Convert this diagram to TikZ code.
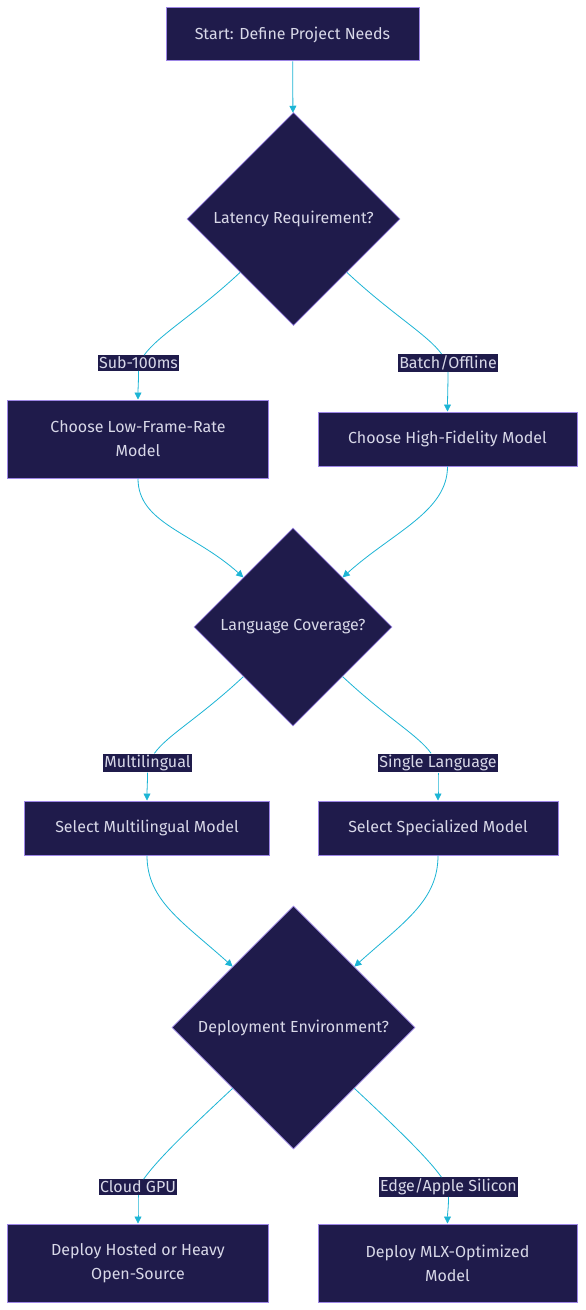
\documentclass[tikz,border=0pt]{standalone}
\usepackage{fontspec}
\setmainfont{Fira Sans}
\usetikzlibrary{shapes.geometric,arrows.meta}
\definecolor{nodefill}{HTML}{1F1B4B}
\definecolor{nodeline}{HTML}{9D86E6}
\definecolor{nodetext}{HTML}{D8D8E8}
\definecolor{edgeline}{HTML}{1CB5D5}
\tikzset{
  procbox/.style={rectangle, fill=nodefill, draw=nodeline, line width=1bp,
    text=nodetext, align=center, inner sep=0pt},
  decision/.style={diamond, fill=nodefill, draw=nodeline, line width=0.6bp,
    text=nodetext, inner sep=0pt, minimum width=#1, minimum height=#1},
  edgelabel/.style={fill=nodefill, text=nodetext, inner sep=1.5bp},
  flowline/.style={draw=edgeline, line width=0.8bp},
  flow/.style={flowline, -{Triangle[length=7bp,width=7bp]}},
}
\begin{document}
\begin{tikzpicture}[x=1bp,y=-1bp,font=\fontsize{16bp}{24bp}\selectfont]
\useasboundingbox[fill=white] (0,0) rectangle (586,1310);
% boxes and decisions
\node[procbox, minimum width=253bp, minimum height=53bp] (start) at (292.5,34.5) {Start: Define Project Needs};
\node[decision=213bp] (d1) at (293.5,219) {Latency Requirement?};
\node[procbox, minimum width=260bp, minimum height=78bp] (low) at (138,439) {Choose Low-Frame-Rate\\Model};
\node[procbox, minimum width=259bp, minimum height=54bp] (high) at (447.5,439) {Choose High-Fidelity Model};
\node[decision=198bp] (d2) at (293,627) {Language Coverage?};
\node[procbox, minimum width=244bp, minimum height=54bp] (multi) at (147,828) {Select Multilingual Model};
\node[procbox, minimum width=240bp, minimum height=54bp] (spec) at (438,828) {Select Specialized Model};
\node[decision=243bp] (d3) at (293.5,1027.5) {Deployment Environment?};
\node[procbox, minimum width=260bp, minimum height=78bp] (hosted) at (138,1263) {Deploy Hosted or Heavy\\Open-Source};
\node[procbox, minimum width=259bp, minimum height=78bp] (mlx) at (447.5,1263) {Deploy MLX-Optimized\\Model};
% edge labels
\node[edgelabel] (l1) at (138.5,363) {Sub-100ms};
\node[edgelabel] (l2) at (448,363) {Batch/Offline};
\node[edgelabel] (l3) at (147.5,763) {Multilingual};
\node[edgelabel] (l4) at (438,763) {Single Language};
\node[edgelabel] (l5) at (138,1187) {Cloud GPU};
\node[edgelabel] (l6) at (448.5,1187) {Edge/Apple Silicon};
% connectors
\draw[flow] (start) -- (d1);
\foreach \d/\a/\b in {d1/l1/l2, d2/l3/l4, d3/l5/l6} {
  \draw[flowline] (\d.south west) .. controls +(-45,42) and +(20,-28) .. (\a);
  \draw[flowline] (\d.south east) .. controls +(45,42) and +(-20,-28) .. (\b);
}
\foreach \a/\b in {l1/low, l2/high, l3/multi, l4/spec, l5/hosted, l6/mlx}
  \draw[flow] (\a) .. controls +(0,22) and +(0,-12) .. (\b.north);
\foreach \a/\d/\c/\s in {low/d2/north west/-1, high/d2/north east/1,
    multi/d3/north west/-1, spec/d3/north east/1}
  \draw[flow] (\a.south) .. controls +(0,45) and +({\s*50},-45) .. (\d.\c);
\end{tikzpicture}
\end{document}
